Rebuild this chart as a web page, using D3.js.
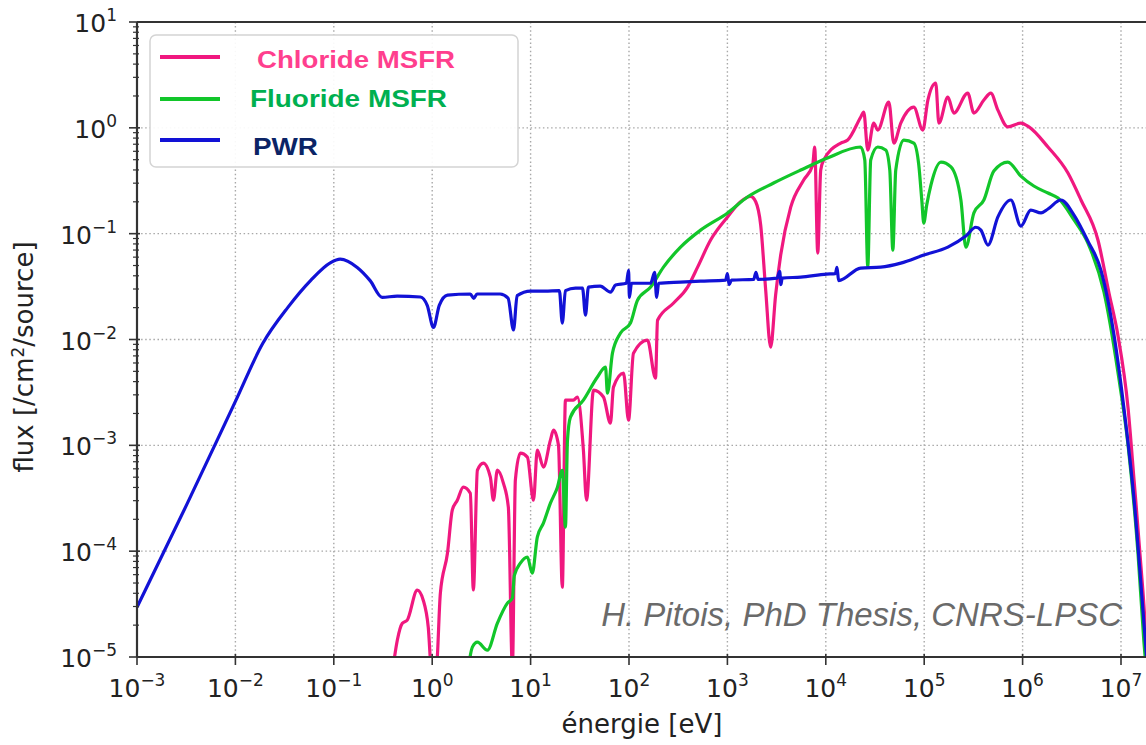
<!DOCTYPE html>
<html>
<head>
<meta charset="UTF-8">
<title>Neutron flux spectra</title>
<script src="https://d3js.org/d3.v7.min.js"></script>
<style>
body { margin: 0; background: #fff; }
text { font-family: "DejaVu Sans", sans-serif; fill: #222; }
</style>
</head>
<body>
<svg width="1146" height="745"></svg>
<script>
// energies in eV, flux in /cm2/source
var chlorideE = [0.4, 0.442, 0.497, 0.558, 0.705, 0.811, 0.912, 0.98, 1.1, 1.21, 1.43, 1.6, 1.8, 2.07, 2.44, 2.62, 2.88, 3.31, 3.9, 4.19,
  4.59, 5.29, 5.94, 6.53, 7.0, 7.87, 9.27, 10.7, 11.7, 13.5, 15.9, 17.1, 19.2, 21.0, 22.6, 27.2, 29.9, 34.4, 37, 43.6,
  55, 64.8, 69.5, 88, 98.9, 111, 154, 186, 195, 284, 394, 498, 675, 1005, 1360, 1720, 1940, 2180, 2450, 2750,
  3090, 3480, 4400, 5960, 7360, 7710, 8280, 8880, 9530, 1.42e4, 1.67e4, 2.26e4, 2.43e4, 2.67e4, 3.07e4, 3.37e4, 4.37e4, 4.91e4, 5.78e4, 7.84e4,
  9.68e4, 1.09e5, 1.31e5, 1.41e5, 1.74e5, 2.0e5, 2.77e5, 3.2e5, 4.04e5, 4.75e5, 5.61e5, 7.08e5, 9.6e5, 1.16e6, 1.81e6, 2.89e6, 3.92e6, 5.83e6, 7.55e6, 9.3e6,
  1.18e7, 1.36e7, 1.67e7, 1.84e7, 2.0e7];
var chlorideFlux = [8e-6, 1.44e-5, 2.08e-5, 2.23e-5, 4.28e-5, 3.44e-5, 1.91e-5, 8e-6, 8e-6, 4.0e-5, 9.6e-5, 2.44e-4, 3.03e-4, 4.03e-4, 3.53e-4, 4.3e-5, 5.83e-4, 6.8e-4, 5.0e-4, 3.03e-4,
  5.83e-4, 4.4e-4, 2.61e-4, 8e-6, 4.69e-4, 8.43e-4, 7.74e-4, 3.03e-4, 9.0e-4, 6.22e-4, 1.12e-3, 1.39e-3, 1.0e-3, 4.57e-5, 2.67e-3, 2.67e-3, 2.86e-3, 9.0e-4, 3.03e-4, 3.33e-3,
  2.86e-3, 1.62e-3, 3.55e-3, 4.81e-3, 1.73e-3, 7.43e-3, 9.86e-3, 4.31e-3, 1.52e-2, 2.21e-2, 3.13e-2, 4.83e-2, 8.7e-2, 0.144, 0.2, 0.225, 0.2, 0.12, 2.93e-2, 8.47e-3,
  2.63e-2, 6.28e-2, 0.178, 0.321, 0.445, 0.659, 6.56e-2, 0.399, 0.497, 0.718, 0.767, 1.26, 1.41, 0.617, 1.11, 0.953, 1.75, 0.718, 1.11, 1.57,
  0.953, 1.83, 2.65, 1.11, 1.95, 1.38, 2.13, 1.38, 1.83, 2.13, 1.47, 1.02, 1.11, 1.02, 0.659, 0.374, 0.208, 8.71e-2, 2.75e-2, 1.1e-2,
  2.25e-3, 4.59e-4, 4.19e-5, 1.16e-5, 4e-6];

var fluorideE = [2.33, 2.56, 2.88, 3.64, 4.59, 5.81, 6.53, 6.84, 7.87, 9.27, 10.4, 11.7, 13.5, 15.9, 18.7, 21.0, 22.6, 23.7, 25.4, 34.4,
  47.8, 57.7, 60.4, 67.9, 82, 103.5, 122, 166, 224, 334, 534, 1005, 1600, 2950, 5560, 1.04e4, 2.26e4, 2.49e4, 2.67e4, 2.86e4,
  3.37e4, 4.06e4, 4.47e4, 4.8e4, 5.14e4, 6.2e4, 7.84e4, 8.81e4, 9.45e4, 9.9e4, 1.06e5, 1.17e5, 1.48e5, 1.87e5, 2.36e5, 2.65e5, 3.2e5, 4.04e5, 5.1e5, 7.08e5,
  9.6e5, 1.3e6, 1.81e6, 2.29e6, 3.33e6, 4.61e6, 6.71e6, 9.3e6, 1.18e7, 1.49e7, 1.71e7, 1.84e7];
var fluorideFlux = [8e-6, 1.24e-5, 1.38e-5, 1.16e-5, 2.08e-5, 3.23e-5, 3.6e-5, 5.9e-5, 7.7e-5, 8.8e-5, 6.2e-5, 1.36e-4, 1.84e-4, 2.84e-4, 4.0e-4, 5.8e-4, 1.69e-4, 1.12e-3, 1.85e-3, 2.67e-3,
  4.42e-3, 5.48e-3, 3.11e-3, 7.43e-3, 1.15e-2, 1.43e-2, 2.35e-2, 3.13e-2, 4.83e-2, 7.46e-2, 0.108, 0.157, 0.222, 0.301, 0.399, 0.519, 0.659, 0.497, 4.83e-2, 0.497,
  0.659, 0.617, 0.399, 7.0e-2, 0.399, 0.767, 0.718, 0.445, 0.208, 0.126, 0.186, 0.288, 0.475, 0.427, 0.208, 7.46e-2, 0.157, 0.208, 0.391, 0.475,
  0.35, 0.282, 0.242, 0.217, 0.135, 8.15e-2, 2.81e-2, 4.92e-3, 1.0e-3, 9.4e-5, 1.38e-5, 6e-6];

var pwrE = [1e-3, 3.2e-3, 1e-2, 1.9e-2, 3.4e-2, 5.8e-2, 9.2e-2, 0.116, 0.173, 0.234, 0.31, 0.44, 0.76, 0.89, 1.03, 1.18, 1.43, 2.44, 2.65, 2.85,
  4.9, 5.9, 6.7, 7.3, 10, 14, 19.6, 21, 22.6, 28.6, 33.7, 36.1, 38.7, 51, 65, 73, 94, 99, 101, 106,
  166, 182, 191, 200, 334, 534, 960, 1000, 1040, 1100, 1850, 1950, 2050, 3200, 3400, 3500, 3600, 5560, 1.02e4, 1.25e4,
  1.3e4, 1.35e4, 2.26e4, 3.61e4, 5.78e4, 9.9e4, 1.74e5, 2.65e5, 3.35e5, 3.77e5, 4.44e5, 5.61e5, 7.6e5, 9.6e5, 1.21e6, 1.54e6, 1.81e6, 2.45e6, 3.33e6, 4.61e6,
  6.26e6, 8.49e6, 1.07e7, 1.36e7, 1.67e7, 1.9e7];
var pwrFlux = [2.95e-5, 2.75e-4, 2.6e-3, 9.2e-3, 2.0e-2, 3.6e-2, 5.3e-2, 5.75e-2, 4.8e-2, 3.6e-2, 2.5e-2, 2.57e-2, 2.52e-2, 2.1e-2, 1.3e-2, 2.1e-2, 2.63e-2, 2.69e-2, 2.45e-2, 2.69e-2,
  2.69e-2, 2.46e-2, 1.23e-2, 2.6e-2, 2.87e-2, 2.87e-2, 2.9e-2, 1.43e-2, 2.9e-2, 3.06e-2, 3.06e-2, 1.7e-2, 3.13e-2, 3.2e-2, 2.8e-2, 3.27e-2, 3.4e-2, 4.5e-2, 2.5e-2, 3.4e-2,
  3.4e-2, 4.3e-2, 2.5e-2, 3.4e-2, 3.49e-2, 3.56e-2, 3.64e-2, 4.2e-2, 3.3e-2, 3.64e-2, 3.7e-2, 4.3e-2, 3.7e-2, 3.8e-2, 4.4e-2, 3.3e-2, 3.8e-2, 3.89e-2, 4.15e-2, 4.2e-2,
  4.8e-2, 3.6e-2, 4.73e-2, 4.83e-2, 5.27e-2, 6.28e-2, 7.46e-2, 9.5e-2, 0.115, 0.108, 7.8e-2, 0.144, 0.208, 0.118, 0.167, 0.157, 0.171, 0.208, 0.15, 8.5e-2,
  4.5e-2, 1.1e-2, 2.25e-3, 3.0e-4, 2.8e-5, 6e-6];

var seriesNames = ["Chloride MSFR", "Fluoride MSFR", "PWR"];
var seriesColors = ["#f0187f", "#12c62a", "#1212d6"];
var legendTextColors = ["#ff3f8e", "#00b050", "#0b2466"];

var xTickExp = [-3, -2, -1, 0, 1, 2, 3, 4, 5, 6, 7];
var yTickExp = [-5, -4, -3, -2, -1, 0, 1];

var svg = d3.select("svg"),
    width = +svg.attr("width"),
    height = +svg.attr("height"),
    plotLeft = 137, plotRight = 1146, plotTop = 22, plotBottom = 657;

var x = d3.scaleLog().domain([1e-3, 1e7]).range([137, 1121]);
var y = d3.scaleLog().domain([1e-5, 1e1]).range([plotBottom, plotTop]);

var xTicks = xTickExp.map(function(e) { return Math.pow(10, e); });
var yTicks = yTickExp.map(function(e) { return Math.pow(10, e); });
var yMinor = [];
yTickExp.slice(0, -1).forEach(function(e) {
  for (var m = 2; m < 10; m++) yMinor.push(m * Math.pow(10, e));
});

svg.append("defs").append("clipPath").attr("id", "plot")
  .append("rect")
  .attr("x", plotLeft).attr("y", plotTop)
  .attr("width", plotRight - plotLeft + 5).attr("height", plotBottom - plotTop);

// grid
var grid = svg.append("g").attr("stroke", "#a8a8a8").attr("stroke-width", 1.4).attr("stroke-dasharray", "1.5,2.6");
grid.selectAll(".gx").data(xTicks.slice(1)).enter().append("line")
  .attr("x1", function(d) { return x(d); }).attr("x2", function(d) { return x(d); })
  .attr("y1", plotTop).attr("y2", plotBottom);
grid.selectAll(".gy").data(yTicks.slice(1, -1)).enter().append("line")
  .attr("x1", plotLeft).attr("x2", plotRight)
  .attr("y1", function(d) { return y(d); }).attr("y2", function(d) { return y(d); });

// curves
var series = [
  {E: chlorideE, F: chlorideFlux},
  {E: fluorideE, F: fluorideFlux},
  {E: pwrE, F: pwrFlux}
];
var line = d3.line()
  .x(function(d) { return x(d[0]); })
  .y(function(d) { return y(d[1]); })
  .curve(d3.curveMonotoneX);

svg.append("g").attr("clip-path", "url(#plot)")
  .selectAll("path").data(series).enter().append("path")
  .attr("d", function(s) { return line(s.E.map(function(e, i) { return [e, s.F[i]]; })); })
  .attr("fill", "none")
  .attr("stroke", function(s, i) { return seriesColors[i]; })
  .attr("stroke-width", 3.2)
  .attr("stroke-linejoin", "round");

// frame
var frame = svg.append("g").attr("stroke", "#333").attr("stroke-width", 2.2);
frame.append("line").attr("x1", plotLeft).attr("x2", plotRight).attr("y1", plotTop).attr("y2", plotTop);
frame.append("line").attr("x1", plotLeft).attr("x2", plotRight).attr("y1", plotBottom).attr("y2", plotBottom);
frame.append("line").attr("x1", plotLeft).attr("x2", plotLeft).attr("y1", plotTop).attr("y2", plotBottom);

// ticks
var ticks = svg.append("g").attr("stroke", "#333").attr("stroke-width", 1.6);
ticks.selectAll(".tx").data(xTicks).enter().append("line")
  .attr("x1", function(d) { return x(d); }).attr("x2", function(d) { return x(d); })
  .attr("y1", plotBottom - 3).attr("y2", plotBottom + 8);
ticks.selectAll(".ty").data(yTicks).enter().append("line")
  .attr("x1", plotLeft - 8).attr("x2", plotLeft + 3)
  .attr("y1", function(d) { return y(d); }).attr("y2", function(d) { return y(d); });
ticks.selectAll(".tm").data(yMinor).enter().append("line")
  .attr("x1", plotLeft - 4).attr("x2", plotLeft + 2)
  .attr("y1", function(d) { return y(d); }).attr("y2", function(d) { return y(d); })
  .attr("stroke-width", 1.2);

function powLabel(sel, e) {
  sel.append("tspan").text("10");
  sel.append("tspan").attr("dy", -11).attr("font-size", 17)
    .text(e < 0 ? "\u2212" + (-e) : "" + e);
}

svg.selectAll(".lx").data(xTickExp).enter().append("text")
  .attr("x", function(e) { return x(Math.pow(10, e)); })
  .attr("y", 697)
  .attr("text-anchor", "middle")
  .attr("font-size", 25)
  .each(function(e) { powLabel(d3.select(this), e); });

svg.selectAll(".ly").data(yTickExp).enter().append("text")
  .attr("x", 117)
  .attr("y", function(e) { return y(Math.pow(10, e)) + 10; })
  .attr("text-anchor", "end")
  .attr("font-size", 25)
  .each(function(e) { powLabel(d3.select(this), e); });

// axis titles
svg.append("text")
  .attr("x", 642).attr("y", 733)
  .attr("text-anchor", "middle")
  .attr("font-size", 26)
  .text("énergie [eV]");

var ylab = svg.append("text")
  .attr("transform", "translate(33,357) rotate(-90)")
  .attr("text-anchor", "middle")
  .attr("font-size", 26);
ylab.append("tspan").text("flux [/cm");
ylab.append("tspan").attr("dy", -9).attr("font-size", 17).text("2");
ylab.append("tspan").attr("dy", 9).text("/source]");

// credit
svg.append("text")
  .attr("x", 1122).attr("y", 626)
  .attr("text-anchor", "end")
  .style("font-family", "'Liberation Sans', Arial, sans-serif")
  .style("font-style", "italic")
  .style("fill", "#6a6a6a")
  .attr("font-size", 33)
  .text("H. Pitois, PhD Thesis, CNRS-LPSC");

// legend
var legend = svg.append("g");
legend.append("rect")
  .attr("x", 150).attr("y", 35).attr("width", 368).attr("height", 132).attr("rx", 6)
  .attr("fill", "#fff").attr("fill-opacity", 0.92)
  .attr("stroke", "#d4d4d4").attr("stroke-width", 1.5);
var legendY = [57, 99, 140];
var legendTextX = [257, 250, 253];
var legendTextY = [68, 107, 155];
var legendTextW = [198, 197, 65];
seriesNames.forEach(function(name, i) {
  legend.append("line")
    .attr("x1", 160).attr("x2", 220)
    .attr("y1", legendY[i]).attr("y2", legendY[i])
    .attr("stroke", seriesColors[i]).attr("stroke-width", 4);
  legend.append("text")
    .attr("x", legendTextX[i]).attr("y", legendTextY[i])
    .attr("textLength", legendTextW[i]).attr("lengthAdjust", "spacingAndGlyphs")
    .style("font-family", "'Liberation Sans', Arial, sans-serif")
    .style("font-weight", "bold")
    .style("fill", legendTextColors[i])
    .attr("font-size", 24)
    .text(name);
});
</script>
</body>
</html>
